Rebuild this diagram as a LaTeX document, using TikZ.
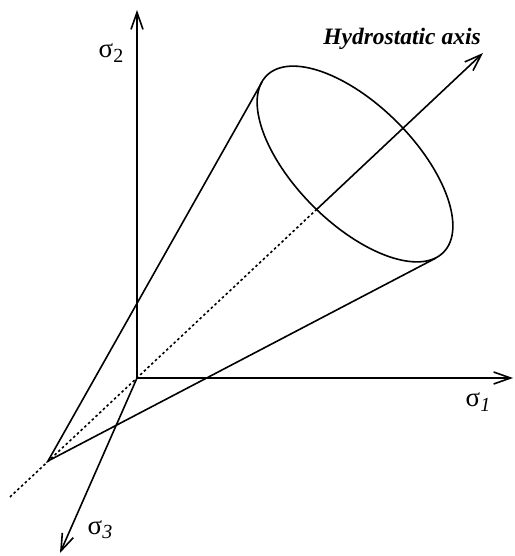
\documentclass[tikz,border=0pt]{standalone}
\usepackage{fontspec}
\setmainfont{Liberation Serif}
\usetikzlibrary{arrows.meta}
\begin{document}
\begin{tikzpicture}[x=1pt,y=-1pt,
  axisline/.style={line width=1.6pt,-{Straight Barb[length=17pt,width=12pt,line width=1.6pt]}},
  coneline/.style={line width=1.6pt},
  hidden/.style={line width=1.6pt,dash pattern=on 2.5pt off 2.6pt},
  lbl/.style={font=\fontsize{27}{29}\selectfont,inner sep=0pt}]
\useasboundingbox (0,0) rectangle (514,556);
\coordinate (O) at (137,378);
\coordinate (S2) at (137,10);
\coordinate (S1) at (513,378);
\coordinate (S3) at (60,553);
\coordinate (D) at (10,497);
\coordinate (M) at (316,210);
\coordinate (H) at (483,53);
\coordinate (A) at (48,461);
\coordinate (C) at (355,164);
\coordinate (T1) at (262,82);
\coordinate (T2) at (436,258);
% axes
\draw[axisline] (O) -- (S2);
\draw[axisline] (O) -- (S1);
\draw[axisline] (O) -- (S3);
% hydrostatic axis
\draw[hidden] (D) -- (M);
\draw[axisline] (M) -- (H);
% cone
\draw[coneline, rotate around={-45:(C)}] (C) ellipse [x radius=125pt, y radius=59.4pt];
\draw[coneline] (T1) -- (A) -- (T2);
% labels
\node[lbl] (l2) at (111,53) {σ\raisebox{-0.35ex}{\fontsize{20}{22}\selectfont 2}};
\node[lbl] (l1) at (478,402) {σ\raisebox{-0.35ex}{\fontsize{20}{22}\selectfont\itshape 1}};
\node[lbl] (l3) at (100,530) {σ\raisebox{-0.35ex}{\fontsize{20}{22}\selectfont\itshape 3}};
\node[inner sep=0pt,anchor=base,font=\fontsize{23.5}{25}\selectfont\bfseries\itshape] (hl) at (402,45) {Hydrostatic axis};
\end{tikzpicture}
\end{document}
